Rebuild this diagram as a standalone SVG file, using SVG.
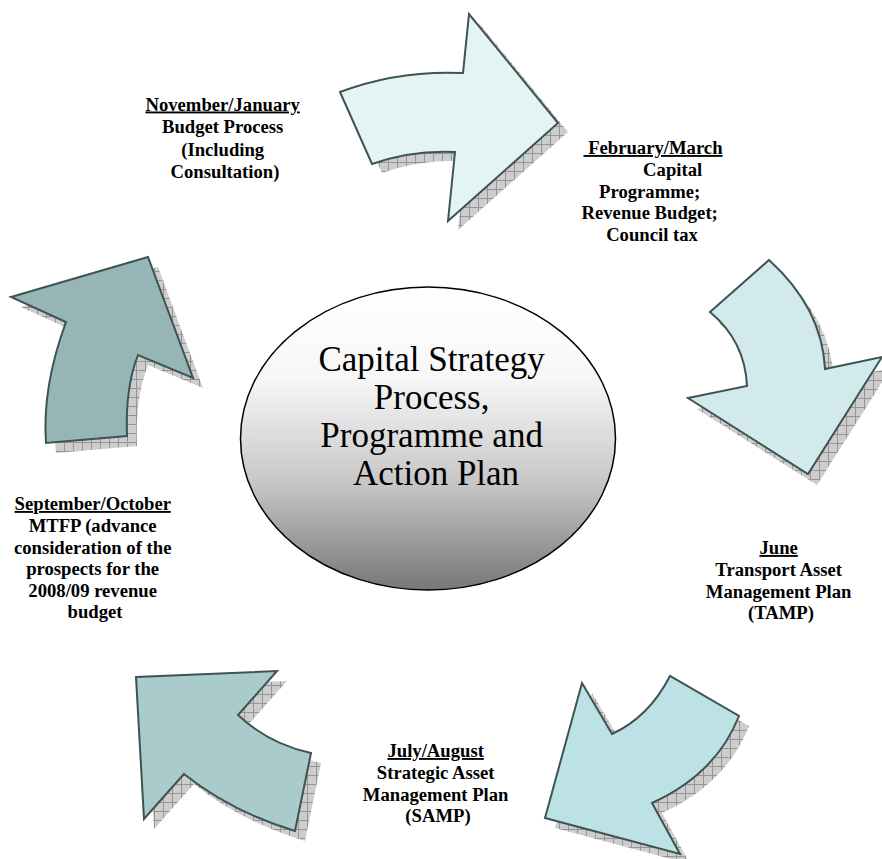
<svg xmlns="http://www.w3.org/2000/svg" width="882" height="859" viewBox="0 0 882 859">
  <style>
    .lbl { font-family: "Liberation Serif", "Times New Roman", serif; font-weight: bold; font-size: 18.67px; fill: #000; text-anchor: middle; }
    .hd { text-decoration: underline; }
    .core { font-family: "Liberation Serif", "Times New Roman", serif; font-size: 35px; fill: #000; text-anchor: middle; }
    .arrow { stroke: #3f5353; stroke-width: 2; stroke-linejoin: miter; }
    .shadow { fill: url(#hatch); stroke: none; }
  </style>
  <defs>
    <!-- grey grid hatch used for the drop shadows -->
    <pattern id="hatch" width="9" height="9" patternUnits="userSpaceOnUse">
      <rect width="9" height="9" fill="#cdcdcd"/>
      <path d="M0 0.5H9M0.5 0V9" stroke="#959595" stroke-width="1"/>
    </pattern>
    <linearGradient id="coreFill" x1="0" y1="0" x2="0" y2="1">
      <stop offset="0" stop-color="#ffffff"/>
      <stop offset="0.3" stop-color="#f7f7f7"/>
      <stop offset="0.65" stop-color="#c6c6c6"/>
      <stop offset="1" stop-color="#777777"/>
    </linearGradient>
    <path id="pTop" d="M340 92 Q398 70 463 73 L469 14 L558 123 L448 221 L455 152 Q412 150 372 164 Z"/>
    <path id="pRight" d="M710 312 L769 260 Q822 308 825 369 L882 357 L808 474 L688 398 L747 386 Q745 341 710 312 Z"/>
    <path id="pBR" d="M582 683 L612 734 Q649 717 670 676 L739 716 Q716 774 652 803 L680 854 L545 818 Z"/>
    <path id="pBL" d="M136 677 L277 671 L238 715 Q269 744 311 753 L295 831 Q230 811 184 774 L144 819 Z"/>
    <path id="pLeft" d="M11 297 L148 257 L193 378 L138 355 Q125 388 127 436 L46 443 Q42 387 66 322 Z"/>
  </defs>

  <rect width="882" height="859" fill="#ffffff"/>

  <!-- cycle arrows -->
  <g id="connectors">
    <g id="arrow-top">
      <use href="#pTop" class="shadow" transform="translate(10,9)"/>
      <use href="#pTop" class="arrow" fill="#e4f3f3"/>
    </g>
    <g id="arrow-right">
      <use href="#pRight" class="shadow" transform="translate(9,11)"/>
      <use href="#pRight" class="arrow" fill="#d3eaec"/>
    </g>
    <g id="arrow-bottom-right">
      <use href="#pBR" class="shadow" transform="translate(10,10)"/>
      <use href="#pBR" class="arrow" fill="#bde2e5"/>
    </g>
    <g id="arrow-bottom-left">
      <use href="#pBL" class="shadow" transform="translate(10,10)"/>
      <use href="#pBL" class="arrow" fill="#a9cbcc"/>
    </g>
    <g id="arrow-left">
      <use href="#pLeft" class="shadow" transform="translate(10,10)"/>
      <use href="#pLeft" class="arrow" fill="#95b5b6"/>
    </g>
  </g>

  <!-- central ellipse -->
  <g id="core">
    <ellipse cx="428" cy="438.5" rx="187.5" ry="151.5" fill="url(#coreFill)" stroke="#000" stroke-width="1.5"/>
    <text class="core">
      <tspan x="436" y="371">Capital Strategy</tspan>
      <tspan x="436" y="409">Process,</tspan>
      <tspan x="436" y="447">Programme and</tspan>
      <tspan x="436" y="485">Action Plan</tspan>
    </text>
  </g>

  <!-- stage labels -->
  <g id="stage-nov-jan">
    <text class="lbl">
      <tspan x="225" y="110.5" class="hd">November/January</tspan>
      <tspan x="225" y="133">Budget Process</tspan>
      <tspan x="225" y="155.5">(Including</tspan>
      <tspan x="225" y="178">Consultation)</tspan>
    </text>
  </g>
  <g id="stage-feb-mar">
    <text class="lbl" xml:space="preserve"><tspan x="653" y="154" class="hd"> February/March</tspan></text>
    <text class="lbl">
      <tspan x="675" y="176">Capital</tspan>
      <tspan x="652" y="197.5">Programme;</tspan>
      <tspan x="652" y="219">Revenue Budget;</tspan>
      <tspan x="652" y="240.5">Council tax</tspan>
    </text>
  </g>
  <g id="stage-june">
    <text class="lbl">
      <tspan x="781" y="554" class="hd">June</tspan>
      <tspan x="781" y="576">Transport Asset</tspan>
      <tspan x="781" y="597.5">Management Plan</tspan>
      <tspan x="781" y="619">(TAMP)</tspan>
    </text>
  </g>
  <g id="stage-jul-aug">
    <text class="lbl">
      <tspan x="438" y="757" class="hd">July/August</tspan>
      <tspan x="438" y="779">Strategic Asset</tspan>
      <tspan x="438" y="800.5">Management Plan</tspan>
      <tspan x="438" y="822">(SAMP)</tspan>
    </text>
  </g>
  <g id="stage-sep-oct">
    <text class="lbl">
      <tspan x="95" y="510" class="hd">September/October</tspan>
      <tspan x="95" y="532">MTFP (advance</tspan>
      <tspan x="95" y="553.5">consideration of the</tspan>
      <tspan x="95" y="575">prospects for the</tspan>
      <tspan x="95" y="596.5">2008/09 revenue</tspan>
      <tspan x="95" y="618">budget</tspan>
    </text>
  </g>
</svg>
